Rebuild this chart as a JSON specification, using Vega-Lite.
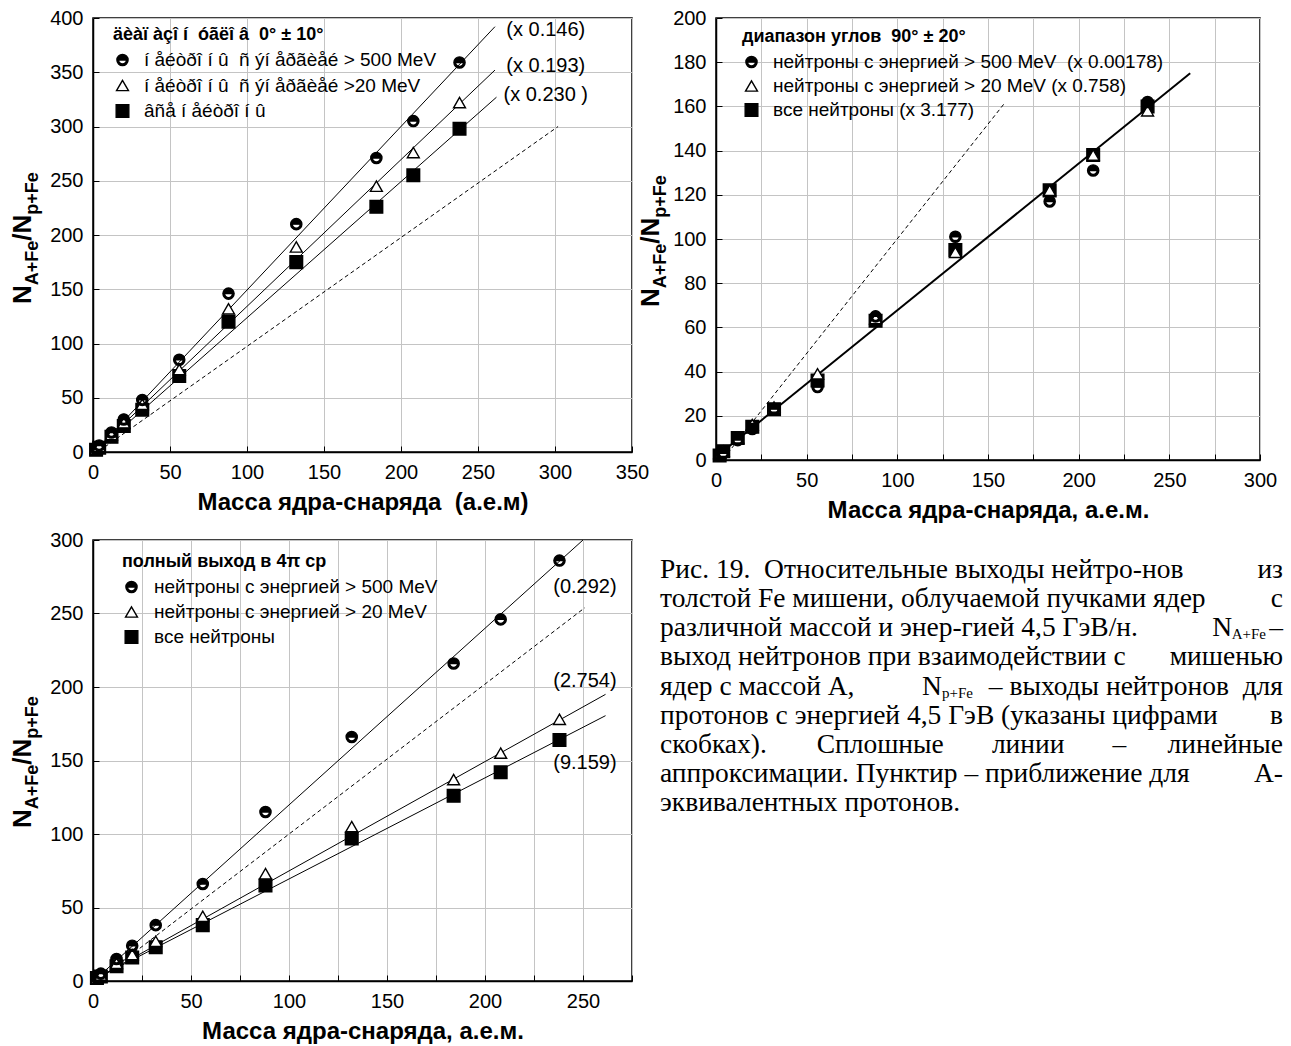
{
  "$schema": "https://vega.github.io/schema/vega-lite/v6.json",
  "background": "white",
  "autosize": {"type": "none"},
  "padding": {"left": 93, "top": 18, "right": 1198, "bottom": 1028},
  "columns": 2,
  "spacing": {"row": 80, "column": 84},
  "bounds": "flush",
  "config": {
    "view": {"stroke": "black", "strokeWidth": 1.5},
    "font": "Liberation Sans",
    "axis": {
      "labelFont": "Liberation Sans", "labelFontSize": 20, "labelColor": "black",
      "titleFont": "Liberation Sans", "titleFontSize": 24, "titleFontWeight": "bold", "titleColor": "black",
      "domainColor": "black", "domainWidth": 1.5, "tickColor": "black", "tickWidth": 1, "tickSize": -6,
      "labelPadding": 16, "gridColor": "#c4c4c4", "gridWidth": 1, "labelFlush": false, "labelOverlap": false, "titlePadding": 8
    }
  },
  "resolve": {
    "scale": {"x": "independent", "y": "independent", "shape": "independent", "fill": "independent", "size": "independent"},
    "legend": {"shape": "independent", "fill": "independent", "size": "independent"}
  },
  "concat": [
    {
      "width": 539, "height": 434,
      "layer": [
        {
          "encoding": {
            "x": {"field": "x", "type": "quantitative", "scale": {"domain": [0, 350], "nice": false, "zero": false},
              "axis": {"values": [0,25,50,75,100,125,150,175,200,225,250,275,300,325,350], "labelExpr": "datum.value % 50 == 0 ? datum.label : ''", "title": "Масса ядра-снаряда\u00a0 (а.е.м)", "grid": true}},
            "y": {"field": "y", "type": "quantitative", "scale": {"domain": [0, 400], "nice": false, "zero": false},
              "axis": {"values": [0,25,50,75,100,125,150,175,200,225,250,275,300,325,350,375,400], "labelExpr": "datum.value % 50 == 0 ? datum.label : ''", "title": null, "grid": true}}
          },
          "layer": [
            {"data": {"values": [{"x": 4, "y": 1}, {"x": 302, "y": 300}]},
              "mark": {"type": "line", "stroke": "black", "strokeWidth": 1, "strokeDash": [4, 3]}},
            {"data": {"values": [
                {"f": "c", "x": 3, "y": 3}, {"f": "c", "x": 261, "y": 392},
                {"f": "t", "x": 3, "y": 3}, {"f": "t", "x": 261, "y": 352},
                {"f": "s", "x": 3, "y": 2}, {"f": "s", "x": 262, "y": 327}]},
              "mark": {"type": "line", "stroke": "black", "strokeWidth": 1},
              "encoding": {"detail": {"field": "f"}}},
            {"data": {"values": [
                {"x": 2, "c": 3, "t": 3, "s": 2}, {"x": 4, "c": 6, "t": 5, "s": 4},
                {"x": 12, "c": 18, "t": 16, "s": 14}, {"x": 20, "c": 30, "t": 27, "s": 24},
                {"x": 32, "c": 48, "t": 44, "s": 39}, {"x": 56, "c": 85, "t": 76, "s": 70},
                {"x": 88, "c": 146, "t": 132, "s": 120}, {"x": 132, "c": 210, "t": 189, "s": 175},
                {"x": 184, "c": 271, "t": 245, "s": 226}, {"x": 208, "c": 305, "t": 276, "s": 255},
                {"x": 238, "c": 359, "t": 322, "s": 298}]},
              "transform": [{"fold": ["s", "t", "c"], "as": ["series", "y"]}],
              "mark": {"type": "point", "filled": true, "stroke": "black", "strokeWidth": 1.4, "opacity": 1},
              "encoding": {
                "shape": {"field": "series", "type": "nominal",
                  "scale": {"domain": ["c", "t", "s"], "range": ["M-1,0A1,1,0,0,1,1,0A1,1,0,0,1,-1,0ZM-0.72,0A0.72,0.72,0,0,0,0.72,0Z", "triangle-up", "square"]},
                  "legend": {"orient": "none", "legendX": 20, "legendY": 8, "padding": 0,
                    "title": "äèàï àçî í\u00a0 óãëî â\u00a0 0° ± 10°", "titleFont": "Liberation Sans", "titleFontSize": 18, "titleFontWeight": "bold", "titleColor": "black", "titlePadding": 6.5, "titleLimit": 700,
                    "labelFont": "Liberation Sans", "labelFontSize": 19, "labelColor": "black", "labelOffset": 12, "labelLimit": 700, "rowPadding": 5.5,
                    "symbolStrokeColor": "black", "symbolStrokeWidth": 1.4,
                    "encode": {"symbols": {"stroke": {"value": "black"}, "strokeWidth": {"value": 1.4}}},
                    "labelExpr": "datum.value == 'c' ? 'í åéòðî í û\u00a0 ñ ýí åðãèåé > 500 MeV' : datum.value == 't' ? 'í åéòðî í û\u00a0 ñ ýí åðãèåé >20 MeV' : 'âñå í åéòðî í û'"}},
                "fill": {"field": "series", "type": "nominal", "scale": {"domain": ["c", "t", "s"], "range": ["black", "white", "black"]}},
                "size": {"field": "series", "type": "nominal", "scale": {"domain": ["c", "t", "s"], "range": [125, 160, 105]}}
              }},
            {"data": {"values": [{"x": 294, "y": 389, "t": "(x 0.146)"}, {"x": 294, "y": 356, "t": "(x 0.193)"}, {"x": 294, "y": 329, "t": "(x 0.230 )"}]},
              "mark": {"type": "text", "font": "Liberation Sans", "fontSize": 20, "color": "black", "align": "center", "baseline": "middle"},
              "encoding": {"text": {"field": "t"}}}
          ]
        },
        {"data": {"values": [{"t": "N"}]},
          "mark": {"type": "text", "angle": 270, "align": "left", "baseline": "alphabetic", "font": "Liberation Sans", "fontWeight": "bold", "fontSize": 26, "color": "black"},
          "encoding": {"x": {"datum": -40.3, "type": "quantitative"}, "y": {"datum": 136.4, "type": "quantitative"}, "text": {"field": "t"}}},
        {"data": {"values": [{"t": "A+Fe"}]},
          "mark": {"type": "text", "angle": 270, "align": "left", "baseline": "alphabetic", "font": "Liberation Sans", "fontWeight": "bold", "fontSize": 18, "color": "black", "dx": 18.8, "dy": 7},
          "encoding": {"x": {"datum": -40.3, "type": "quantitative"}, "y": {"datum": 136.4, "type": "quantitative"}, "text": {"field": "t"}}},
        {"data": {"values": [{"t": "/N"}]},
          "mark": {"type": "text", "angle": 270, "align": "left", "baseline": "alphabetic", "font": "Liberation Sans", "fontWeight": "bold", "fontSize": 26, "color": "black", "dx": 63.3},
          "encoding": {"x": {"datum": -40.3, "type": "quantitative"}, "y": {"datum": 136.4, "type": "quantitative"}, "text": {"field": "t"}}},
        {"data": {"values": [{"t": "p+Fe"}]},
          "mark": {"type": "text", "angle": 270, "align": "left", "baseline": "alphabetic", "font": "Liberation Sans", "fontWeight": "bold", "fontSize": 18, "color": "black", "dx": 89.3, "dy": 7},
          "encoding": {"x": {"datum": -40.3, "type": "quantitative"}, "y": {"datum": 136.4, "type": "quantitative"}, "text": {"field": "t"}}}
      ]
    },
    {
      "width": 544, "height": 442,
      "layer": [
        {
          "encoding": {
            "x": {"field": "x", "type": "quantitative", "scale": {"domain": [0, 300], "nice": false, "zero": false},
              "axis": {"values": [0,25,50,75,100,125,150,175,200,225,250,275,300], "labelExpr": "datum.value % 50 == 0 ? datum.label : ''", "title": "Масса ядра-снаряда, а.е.м.", "grid": true}},
            "y": {"field": "y", "type": "quantitative", "scale": {"domain": [0, 200], "nice": false, "zero": false},
              "axis": {"values": [0,10,20,30,40,50,60,70,80,90,100,110,120,130,140,150,160,170,180,190,200], "labelExpr": "datum.value % 20 == 0 ? datum.label : ''", "title": null, "grid": true}}
          },
          "layer": [
            {"data": {"values": [{"x": 4, "y": 0.5}, {"x": 158.7, "y": 161}]},
              "mark": {"type": "line", "stroke": "black", "strokeWidth": 1, "strokeDash": [4, 3]}},
            {"data": {"values": [{"x": 1, "y": 2}, {"x": 261.5, "y": 175}]},
              "mark": {"type": "line", "stroke": "black", "strokeWidth": 2}},
            {"data": {"values": [
                {"x": 2, "c": 2, "t": 3, "s": 2}, {"x": 4, "c": 3, "t": 4, "s": 4},
                {"x": 12, "c": 9, "t": 10, "s": 10}, {"x": 20, "c": 14, "t": 16, "s": 15},
                {"x": 32, "c": 23, "t": 24, "s": 23}, {"x": 56, "c": 33, "t": 39, "s": 36},
                {"x": 88, "c": 65, "t": 64, "s": 63}, {"x": 132, "c": 101, "t": 94, "s": 95},
                {"x": 184, "c": 117, "t": 122, "s": 122}, {"x": 208, "c": 131, "t": 138, "s": 138},
                {"x": 238, "c": 162, "t": 158, "s": 160}]},
              "transform": [{"fold": ["s", "t", "c"], "as": ["series", "y"]}],
              "mark": {"type": "point", "filled": true, "stroke": "black", "strokeWidth": 1.4, "opacity": 1},
              "encoding": {
                "shape": {"field": "series", "type": "nominal",
                  "scale": {"domain": ["c", "t", "s"], "range": ["M-1,0A1,1,0,0,1,1,0A1,1,0,0,1,-1,0ZM-0.72,0A0.72,0.72,0,0,0,0.72,0Z", "triangle-up", "square"]},
                  "legend": {"orient": "none", "legendX": 26, "legendY": 10, "padding": 0,
                    "title": "диапазон углов\u00a0 90° ± 20°", "titleFont": "Liberation Sans", "titleFontSize": 18, "titleFontWeight": "bold", "titleColor": "black", "titlePadding": 6.5, "titleLimit": 700,
                    "labelFont": "Liberation Sans", "labelFontSize": 19, "labelColor": "black", "labelOffset": 12, "labelLimit": 700, "rowPadding": 4,
                    "symbolStrokeColor": "black", "symbolStrokeWidth": 1.4,
                    "encode": {"symbols": {"stroke": {"value": "black"}, "strokeWidth": {"value": 1.4}}},
                    "labelExpr": "datum.value == 'c' ? 'нейтроны с энергией > 500 MeV\u00a0 (x 0.00178)' : datum.value == 't' ? 'нейтроны с энергией > 20 MeV (x 0.758)' : 'все нейтроны (x 3.177)'"}},
                "fill": {"field": "series", "type": "nominal", "scale": {"domain": ["c", "t", "s"], "range": ["black", "white", "black"]}},
                "size": {"field": "series", "type": "nominal", "scale": {"domain": ["c", "t", "s"], "range": [125, 160, 105]}}
              }}
          ]
        },
        {"data": {"values": [{"t": "N"}]},
          "mark": {"type": "text", "angle": 270, "align": "left", "baseline": "alphabetic", "font": "Liberation Sans", "fontWeight": "bold", "fontSize": 26, "color": "black"},
          "encoding": {"x": {"datum": -31.4, "type": "quantitative"}, "y": {"datum": 69.2, "type": "quantitative"}, "text": {"field": "t"}}},
        {"data": {"values": [{"t": "A+Fe"}]},
          "mark": {"type": "text", "angle": 270, "align": "left", "baseline": "alphabetic", "font": "Liberation Sans", "fontWeight": "bold", "fontSize": 18, "color": "black", "dx": 18.8, "dy": 7},
          "encoding": {"x": {"datum": -31.4, "type": "quantitative"}, "y": {"datum": 69.2, "type": "quantitative"}, "text": {"field": "t"}}},
        {"data": {"values": [{"t": "/N"}]},
          "mark": {"type": "text", "angle": 270, "align": "left", "baseline": "alphabetic", "font": "Liberation Sans", "fontWeight": "bold", "fontSize": 26, "color": "black", "dx": 63.3},
          "encoding": {"x": {"datum": -31.4, "type": "quantitative"}, "y": {"datum": 69.2, "type": "quantitative"}, "text": {"field": "t"}}},
        {"data": {"values": [{"t": "p+Fe"}]},
          "mark": {"type": "text", "angle": 270, "align": "left", "baseline": "alphabetic", "font": "Liberation Sans", "fontWeight": "bold", "fontSize": 18, "color": "black", "dx": 89.3, "dy": 7},
          "encoding": {"x": {"datum": -31.4, "type": "quantitative"}, "y": {"datum": 69.2, "type": "quantitative"}, "text": {"field": "t"}}}
      ]
    },
    {
      "width": 539, "height": 441,
      "layer": [
        {
          "encoding": {
            "x": {"field": "x", "type": "quantitative", "scale": {"domain": [0, 275], "nice": false, "zero": false},
              "axis": {"values": [0,25,50,75,100,125,150,175,200,225,250,275], "labelExpr": "datum.value % 50 == 0 ? datum.label : ''", "title": "Масса ядра-снаряда, а.е.м.", "grid": true}},
            "y": {"field": "y", "type": "quantitative", "scale": {"domain": [0, 300], "nice": false, "zero": false},
              "axis": {"values": [0,25,50,75,100,125,150,175,200,225,250,275,300], "labelExpr": "datum.value % 50 == 0 ? datum.label : ''", "title": null, "grid": true}}
          },
          "layer": [
            {"data": {"values": [{"x": 4, "y": 2}, {"x": 251, "y": 254}]},
              "mark": {"type": "line", "stroke": "black", "strokeWidth": 1, "strokeDash": [4, 3]}},
            {"data": {"values": [
                {"f": "c", "x": 2, "y": 2}, {"f": "c", "x": 250, "y": 300},
                {"f": "t", "x": 2, "y": 2}, {"f": "t", "x": 261.5, "y": 195},
                {"f": "s", "x": 2, "y": 2}, {"f": "s", "x": 261.5, "y": 180.5}]},
              "mark": {"type": "line", "stroke": "black", "strokeWidth": 1},
              "encoding": {"detail": {"field": "f"}}},
            {"data": {"values": [
                {"x": 2, "c": 2, "t": 2, "s": 2}, {"x": 4, "c": 5, "t": 4, "s": 3},
                {"x": 12, "c": 15, "t": 12, "s": 10}, {"x": 20, "c": 24, "t": 18, "s": 16},
                {"x": 32, "c": 38, "t": 27, "s": 23}, {"x": 56, "c": 66, "t": 44, "s": 38},
                {"x": 88, "c": 115, "t": 73, "s": 65}, {"x": 132, "c": 166, "t": 105, "s": 97},
                {"x": 184, "c": 216, "t": 137, "s": 126}, {"x": 208, "c": 246, "t": 155, "s": 142},
                {"x": 238, "c": 286, "t": 178, "s": 164}]},
              "transform": [{"fold": ["s", "t", "c"], "as": ["series", "y"]}],
              "mark": {"type": "point", "filled": true, "stroke": "black", "strokeWidth": 1.4, "opacity": 1},
              "encoding": {
                "shape": {"field": "series", "type": "nominal",
                  "scale": {"domain": ["c", "t", "s"], "range": ["M-1,0A1,1,0,0,1,1,0A1,1,0,0,1,-1,0ZM-0.72,0A0.72,0.72,0,0,0,0.72,0Z", "triangle-up", "square"]},
                  "legend": {"orient": "none", "legendX": 29, "legendY": 13, "padding": 0,
                    "title": "полный выход в 4π ср", "titleFont": "Liberation Sans", "titleFontSize": 18, "titleFontWeight": "bold", "titleColor": "black", "titlePadding": 6.5, "titleLimit": 700,
                    "labelFont": "Liberation Sans", "labelFontSize": 19, "labelColor": "black", "labelOffset": 13, "labelLimit": 700, "rowPadding": 5,
                    "symbolStrokeColor": "black", "symbolStrokeWidth": 1.4,
                    "encode": {"symbols": {"stroke": {"value": "black"}, "strokeWidth": {"value": 1.4}}},
                    "labelExpr": "datum.value == 'c' ? 'нейтроны с энергией > 500 MeV' : datum.value == 't' ? 'нейтроны с энергией > 20 MeV' : 'все нейтроны'"}},
                "fill": {"field": "series", "type": "nominal", "scale": {"domain": ["c", "t", "s"], "range": ["black", "white", "black"]}},
                "size": {"field": "series", "type": "nominal", "scale": {"domain": ["c", "t", "s"], "range": [125, 160, 105]}}
              }},
            {"data": {"values": [{"x": 251, "y": 268, "t": "(0.292)"}, {"x": 251, "y": 204, "t": "(2.754)"}, {"x": 251, "y": 148, "t": "(9.159)"}]},
              "mark": {"type": "text", "font": "Liberation Sans", "fontSize": 20, "color": "black", "align": "center", "baseline": "middle"},
              "encoding": {"text": {"field": "t"}}}
          ]
        },
        {"data": {"values": [{"t": "N"}]},
          "mark": {"type": "text", "angle": 270, "align": "left", "baseline": "alphabetic", "font": "Liberation Sans", "fontWeight": "bold", "fontSize": 26, "color": "black"},
          "encoding": {"x": {"datum": -31.6, "type": "quantitative"}, "y": {"datum": 104, "type": "quantitative"}, "text": {"field": "t"}}},
        {"data": {"values": [{"t": "A+Fe"}]},
          "mark": {"type": "text", "angle": 270, "align": "left", "baseline": "alphabetic", "font": "Liberation Sans", "fontWeight": "bold", "fontSize": 18, "color": "black", "dx": 18.8, "dy": 7},
          "encoding": {"x": {"datum": -31.6, "type": "quantitative"}, "y": {"datum": 104, "type": "quantitative"}, "text": {"field": "t"}}},
        {"data": {"values": [{"t": "/N"}]},
          "mark": {"type": "text", "angle": 270, "align": "left", "baseline": "alphabetic", "font": "Liberation Sans", "fontWeight": "bold", "fontSize": 26, "color": "black", "dx": 63.3},
          "encoding": {"x": {"datum": -31.6, "type": "quantitative"}, "y": {"datum": 104, "type": "quantitative"}, "text": {"field": "t"}}},
        {"data": {"values": [{"t": "p+Fe"}]},
          "mark": {"type": "text", "angle": 270, "align": "left", "baseline": "alphabetic", "font": "Liberation Sans", "fontWeight": "bold", "fontSize": 18, "color": "black", "dx": 89.3, "dy": 7},
          "encoding": {"x": {"datum": -31.6, "type": "quantitative"}, "y": {"datum": 104, "type": "quantitative"}, "text": {"field": "t"}}}
      ]
    },
    {
      "width": 544, "height": 441,
      "view": {"stroke": null},
      "data": {"values": [
        {"line": 1, "head": "Рис. 19.\u00a0 Относительные выходы нейтро-нов", "mid": "", "tail": "из"},
        {"line": 2, "head": "толстой Fe мишени, облучаемой пучками ядер", "mid": "", "tail": "с"},
        {"line": 3, "head": "различной массой и энер-гией 4,5 ГэВ/н.", "mid": "", "tail": "–"},
        {"line": 4, "head": "выход нейтронов при взаимодействии с", "mid": "", "tail": "мишенью"},
        {"line": 5, "head": "ядер с массой А,", "mid": "", "tail": "– выходы нейтронов\u00a0 для"},
        {"line": 6, "head": "протонов с энергией 4,5 ГэВ (указаны цифрами", "mid": "", "tail": "в"},
        {"line": 7, "head": "скобках).", "mid": "Сплошные\u00a0\u00a0\u00a0\u00a0\u00a0\u00a0\u00a0линии\u00a0\u00a0\u00a0\u00a0\u00a0\u00a0\u00a0–", "tail": "линейные"},
        {"line": 8, "head": "аппроксимации. Пунктир – приближение для", "mid": "", "tail": "А-"},
        {"line": 9, "head": "эквивалентных протонов.", "mid": "", "tail": ""}
      ]},
      "encoding": {
        "y": {"field": "line", "type": "quantitative", "scale": {"domain": [0, 15], "range": [1, 437.5]}, "axis": null}
      },
      "layer": [
        {"mark": {"type": "text", "font": "Liberation Serif", "fontSize": 27.5, "color": "black", "align": "left", "baseline": "middle"},
          "encoding": {"x": {"datum": 0, "type": "quantitative", "scale": {"domain": [0, 1], "range": [-56, 567]}, "axis": null}, "text": {"field": "head"}}},
        {"mark": {"type": "text", "font": "Liberation Serif", "fontSize": 27.5, "color": "black", "align": "center", "baseline": "middle"},
          "encoding": {"x": {"datum": 0.5, "type": "quantitative"}, "text": {"field": "mid"}}},
        {"mark": {"type": "text", "font": "Liberation Serif", "fontSize": 27.5, "color": "black", "align": "right", "baseline": "middle"},
          "encoding": {"x": {"datum": 1, "type": "quantitative"}, "text": {"field": "tail"}}},
        {"transform": [{"filter": "datum.line == 3"}],
          "mark": {"type": "text", "font": "Liberation Serif", "fontSize": 27.5, "color": "black", "align": "right", "baseline": "middle", "dx": -51, "text": "N"},
          "encoding": {"x": {"datum": 1, "type": "quantitative"}}},
        {"transform": [{"filter": "datum.line == 3"}],
          "mark": {"type": "text", "font": "Liberation Serif", "fontSize": 15, "color": "black", "align": "right", "baseline": "middle", "dx": -17, "dy": 6, "text": "A+Fe"},
          "encoding": {"x": {"datum": 1, "type": "quantitative"}}},
        {"transform": [{"filter": "datum.line == 5"}],
          "mark": {"type": "text", "font": "Liberation Serif", "fontSize": 27.5, "color": "black", "align": "left", "baseline": "middle", "dx": 262, "text": "N"},
          "encoding": {"x": {"datum": 0, "type": "quantitative"}}},
        {"transform": [{"filter": "datum.line == 5"}],
          "mark": {"type": "text", "font": "Liberation Serif", "fontSize": 15, "color": "black", "align": "left", "baseline": "middle", "dx": 282, "dy": 6, "text": "p+Fe"},
          "encoding": {"x": {"datum": 0, "type": "quantitative"}}}
      ]
    }
  ]
}
